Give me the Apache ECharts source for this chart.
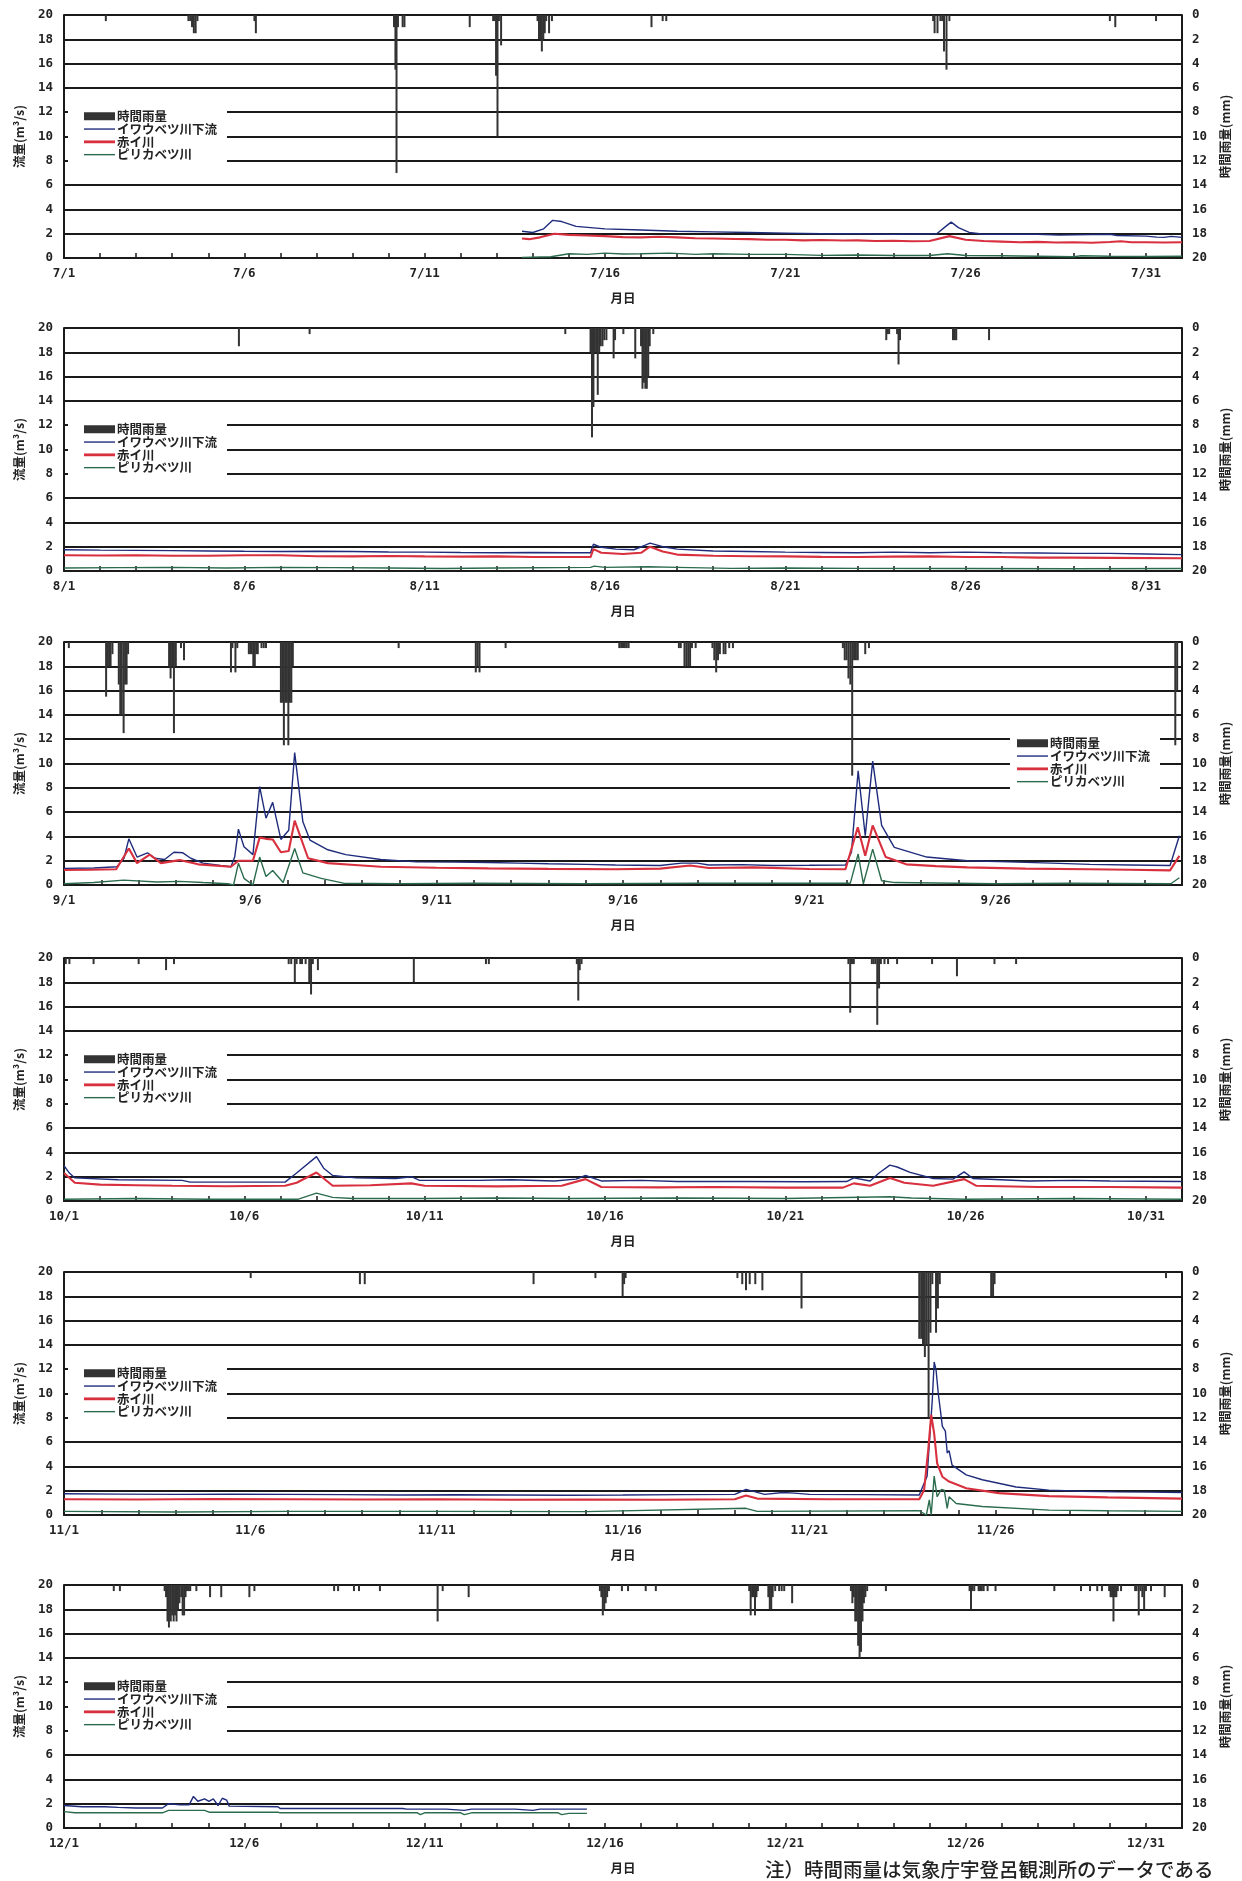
<!DOCTYPE html>
<html><head><meta charset="utf-8">
<script src="https://cdn.jsdelivr.net/npm/echarts@6/dist/echarts.min.js"></script>
<style>html,body{margin:0;padding:0;background:#fff}#c{width:1242px;height:1881px}</style>
</head><body><div id="c"></div>
<script>
// ---- categories / labels ----
const monthNums = [7, 8, 9, 10, 11, 12];
const monthDays = [31, 31, 30, 31, 30, 31];
const seriesNames = ['時間雨量', 'イワウベツ川下流', '赤イ川', 'ピリカベツ川'];
const flowAxisName = '流量(m³/s)';
const rainAxisName = '時間雨量(mm)';
const xAxisName = '月日';
const noteText = '注）時間雨量は気象庁宇登呂観測所のデータである';

// ---- July (x = days since 7/1 00:00) ----
const julRain = [[1.16,0.5],[3.45,0.5],[3.5,0.5],[3.55,1],[3.6,1.5],[3.65,1.5],[3.7,0.5],[5.28,0.5],[5.32,1.5],
 [9.15,1],[9.19,4.5],[9.22,13],[9.26,1],[9.39,1],[9.44,1],[11.25,1],
 [11.9,0.5],[11.94,0.5],[11.98,5],[12.02,10],[12.06,0.5],[12.12,2.5],
 [13.13,0.5],[13.17,2],[13.21,2],[13.25,3],[13.29,2],[13.33,1.5],[13.37,0.5],[13.45,1.5],[13.53,0.5],
 [16.29,1],[16.6,0.5],[16.7,0.5],
 [24.1,0.5],[24.14,1.5],[24.22,1.5],[24.3,0.5],[24.35,0.5],[24.4,3],[24.47,4.5],[24.55,0.5],
 [29.0,0.5],[29.15,1],[30.28,0.5]];
const julBlue = [[12.7,2.2],[13.0,2.1],[13.3,2.4],[13.55,3.1],[13.8,3.0],[14.2,2.6],[15,2.4],[16,2.3],[17,2.2],[18,2.15],[19,2.1],[20,2.05],[21,2.0],[22,2.0],[23,1.95],[24.2,2.0],[24.45,2.6],[24.6,2.95],[24.8,2.5],[25.1,2.1],[25.5,1.95],[27,1.95],[27.6,1.88],[28,1.9],[29,1.95],[29.2,1.85],[30,1.8],[30.3,1.72],[30.5,1.7],[30.7,1.78],[31,1.7]];
const julRed = [[12.7,1.6],[12.9,1.55],[13.2,1.7],[13.6,2.0],[14,1.9],[14.5,1.85],[15,1.8],[15.5,1.72],[16,1.7],[16.5,1.75],[17,1.7],[17.5,1.62],[18,1.6],[18.6,1.56],[19,1.55],[19.5,1.5],[20,1.5],[20.5,1.45],[21,1.48],[21.6,1.44],[22,1.45],[22.5,1.4],[23,1.42],[23.5,1.38],[24,1.4],[24.55,1.8],[25,1.5],[25.5,1.4],[26,1.35],[26.5,1.3],[27,1.33],[27.5,1.28],[28,1.3],[28.5,1.26],[29,1.32],[29.3,1.38],[29.6,1.3],[30,1.3],[30.5,1.27],[31,1.3]];
const julGreen = [[12.7,0.05],[13.5,0.1],[14,0.35],[14.5,0.3],[15,0.4],[15.5,0.33],[16,0.35],[16.8,0.4],[17.5,0.3],[18,0.35],[19,0.3],[20,0.3],[21,0.22],[22,0.25],[23,0.2],[24,0.2],[24.5,0.35],[25,0.2],[26,0.18],[27,0.15],[28,0.1],[28.2,0.18],[29,0.15],[30,0.12],[31,0.15]];

// ---- August ----
const augRain = [[4.85,1.5],[6.81,0.5],[13.9,0.5],
 [14.6,2],[14.64,9],[14.68,6.5],[14.72,2],[14.76,2],[14.8,5.5],[14.84,2],[14.88,1.5],[14.93,1.5],[14.98,1],[15.04,1],
 [15.24,2.5],[15.28,1],[15.51,0.5],
 [15.84,2.5],[16.0,1.5],[16.04,5],[16.08,4.5],[16.12,5],[16.16,5],[16.2,4],[16.24,1.5],[16.34,0.5],
 [22.8,1],[22.84,0.5],[22.88,0.5],[23.1,0.5],[23.14,3],[23.18,1],
 [24.65,1],[24.7,1],[24.74,1],[25.65,1]];
const augBlue = [[0,1.75],[1,1.72],[2,1.7],[3,1.68],[4,1.65],[5,1.62],[6,1.6],[7,1.62],[8,1.6],[9,1.56],[10,1.55],[11,1.52],[12,1.5],[13,1.52],[14,1.5],[14.6,1.5],[14.68,2.2],[14.9,1.95],[15.3,1.8],[15.8,1.75],[16.1,2.1],[16.25,2.3],[16.6,2.0],[17,1.8],[18,1.65],[19,1.6],[20,1.55],[21,1.52],[22,1.5],[23,1.55],[24,1.5],[25,1.55],[26,1.5],[27,1.48],[28,1.45],[29,1.45],[30,1.4],[31,1.35]];
const augRed = [[0,1.3],[1,1.27],[2,1.3],[3,1.25],[4,1.25],[5,1.3],[6,1.3],[7,1.22],[8,1.2],[9,1.23],[10,1.2],[11,1.18],[12,1.2],[13,1.15],[14,1.15],[14.6,1.15],[14.68,1.8],[14.9,1.5],[15.5,1.4],[16.0,1.5],[16.25,2.0],[16.6,1.6],[17,1.35],[18,1.25],[19,1.22],[20,1.2],[21,1.16],[22,1.15],[23,1.18],[24,1.2],[25,1.15],[26,1.15],[27,1.1],[28,1.1],[29,1.08],[31,1.05]];
const augGreen = [[0,0.25],[1.5,0.28],[3,0.3],[4.5,0.25],[6,0.3],[7.5,0.28],[9,0.25],[10.5,0.2],[12,0.25],[14.6,0.3],[14.7,0.4],[15,0.3],[16.2,0.35],[17,0.3],[18.5,0.22],[20,0.25],[22,0.22],[25,0.2],[28,0.18],[31,0.2]];

// ---- September ----
const sepRain = [[0.13,0.5],
 [1.13,4.5],[1.17,2],[1.21,2],[1.25,2],[1.3,1],
 [1.47,3.5],[1.51,6],[1.55,6],[1.6,7.5],[1.64,3.5],[1.68,3.5],[1.72,1],
 [2.82,2],[2.86,3],[2.9,2],[2.95,7.5],[3.0,2],[3.14,0.5],[3.22,1.5],
 [4.48,2.5],[4.52,0.5],[4.6,2.5],[4.65,0.5],
 [4.96,1],[5.0,1],[5.04,1],[5.08,2],[5.12,2],[5.16,1],[5.2,1],[5.3,0.5],[5.36,0.5],[5.42,0.5],
 [5.82,5],[5.86,5],[5.9,8.5],[5.94,5],[5.98,5],[6.02,8.5],[6.06,5],[6.1,5],[6.14,2],
 [8.98,0.5],[11.05,2.5],[11.1,2],[11.15,2.5],[11.85,0.5],
 [14.9,0.5],[14.95,0.5],[15.0,0.5],[15.05,0.5],[15.1,0.5],[15.15,0.5],
 [16.5,0.5],[16.55,0.5],[16.65,2],[16.7,2],[16.75,2],[16.8,2],[16.85,0.5],[16.95,0.5],
 [17.4,0.5],[17.45,1.5],[17.5,2.5],[17.55,1.5],[17.6,1],[17.7,1],[17.75,1],[17.85,0.5],[17.95,0.5],
 [20.9,0.5],[20.95,1.5],[21.0,1.5],[21.05,3],[21.1,3.5],[21.15,11],[21.2,1.5],[21.25,1.5],[21.3,1.5],
 [21.5,1],[21.6,0.5],[29.82,8.5],[29.87,4]];
const sepBlue = [[0,1.37],[0.8,1.4],[1.42,1.5],[1.61,2.2],[1.74,3.8],[1.96,2.3],[2.24,2.65],[2.44,2.2],[2.7,2.1],[2.95,2.7],[3.19,2.65],[3.4,2.2],[3.73,1.8],[4.2,1.6],[4.48,1.5],[4.58,2.3],[4.68,4.6],[4.83,3.15],[5.07,2.5],[5.25,8.1],[5.42,5.5],[5.6,6.8],[5.82,3.75],[6.03,4.5],[6.19,10.9],[6.41,5.2],[6.6,3.7],[7.08,2.9],[7.56,2.5],[8.5,2.1],[9.46,1.9],[10.5,1.88],[11.39,1.85],[12.2,1.8],[13,1.75],[14,1.7],[14.8,1.65],[16,1.6],[16.57,1.8],[17.0,1.8],[17.3,1.65],[18.2,1.68],[19,1.6],[20,1.62],[20.97,1.65],[21.13,2.7],[21.31,9.4],[21.5,4.05],[21.7,10.2],[21.94,4.9],[22.28,3.1],[23.15,2.3],[24.24,2.0],[25.34,1.9],[26.5,1.8],[27.53,1.7],[28.6,1.65],[29.68,1.6],[29.93,4.05]];
const sepRed = [[0,1.23],[0.7,1.25],[1.4,1.3],[1.74,3.0],[1.96,1.8],[2.3,2.5],[2.6,1.8],[3.1,2.05],[3.6,1.7],[4.48,1.5],[4.68,2.0],[5.07,2.0],[5.25,3.9],[5.42,3.8],[5.6,3.75],[5.82,2.7],[6.03,2.8],[6.19,5.3],[6.55,2.2],[7.08,1.8],[7.8,1.65],[8.5,1.5],[10,1.42],[11.39,1.37],[13,1.33],[14.8,1.3],[16,1.35],[16.8,1.6],[17.3,1.4],[18.5,1.45],[20,1.32],[20.97,1.3],[21.3,4.75],[21.5,2.4],[21.7,4.9],[22.05,2.3],[22.6,1.7],[23.4,1.55],[24.24,1.45],[25.8,1.35],[27.53,1.3],[28.6,1.25],[29.68,1.2],[29.93,2.4]];
const sepGreen = [[0,0.1],[0.8,0.2],[1.6,0.4],[2.5,0.25],[3.1,0.3],[3.73,0.2],[4.4,0.1],[4.55,0],[4.68,1.8],[4.83,0.55],[5.07,0],[5.25,2.3],[5.42,0.7],[5.6,1.2],[5.88,0.2],[6.19,3.0],[6.41,1.0],[6.9,0.55],[7.5,0.15],[9,0.1],[11,0.15],[14,0.1],[17,0.15],[21.1,0.15],[21.31,2.55],[21.45,0.1],[21.7,2.95],[21.94,0.35],[22.3,0.2],[25,0.1],[27,0.15],[29.7,0.1],[29.93,0.6]];

// ---- October ----
const octRain = [[0.05,0.5],[0.15,0.5],[0.82,0.5],[2.07,0.5],[2.83,1],[3.05,0.5],
 [6.23,0.5],[6.3,0.5],[6.4,2],[6.45,0.5],[6.55,0.5],[6.6,0.5],[6.7,0.5],[6.8,2],[6.85,3],[6.9,0.5],[7.04,1],
 [9.7,2],[11.7,0.5],[11.78,0.5],
 [14.22,0.5],[14.26,3.5],[14.3,1],[14.35,0.5],
 [21.75,0.5],[21.8,4.5],[21.85,0.5],[21.9,0.5],
 [22.4,0.5],[22.45,0.5],[22.5,0.5],[22.55,5.5],[22.6,2.5],[22.65,0.5],[22.75,0.5],[22.85,0.5],
 [23.1,0.5],[24.07,0.5],[24.76,1.5],[25.8,0.5],[26.4,0.5]];
const octBlue = [[0,2.9],[0.15,2.3],[0.3,1.9],[1.5,1.75],[3.28,1.7],[3.5,1.55],[5,1.55],[6.13,1.55],[6.45,2.3],[7.0,3.65],[7.2,2.7],[7.45,2.1],[8.1,1.9],[9.2,1.85],[9.63,2.0],[9.86,1.7],[11.5,1.7],[12.4,1.75],[13.6,1.65],[14.2,1.8],[14.46,2.1],[14.9,1.65],[16,1.7],[17,1.6],[19,1.6],[20.5,1.58],[21.7,1.6],[21.9,1.9],[22.35,1.65],[22.6,2.3],[22.9,2.95],[23.1,2.8],[23.46,2.35],[24.1,1.85],[24.65,1.8],[24.96,2.4],[25.2,1.85],[26.75,1.65],[28,1.7],[29,1.65],[31,1.6]];
const octRed = [[0,2.3],[0.3,1.5],[1,1.35],[2,1.3],[3,1.25],[4.5,1.22],[6.13,1.25],[6.45,1.5],[7.0,2.35],[7.45,1.25],[8.5,1.3],[9.63,1.45],[10,1.25],[12,1.2],[13.8,1.25],[14.46,1.8],[14.9,1.15],[16.5,1.12],[18,1.15],[20,1.1],[21.6,1.1],[21.9,1.45],[22.35,1.25],[22.9,1.9],[23.3,1.5],[24.1,1.25],[24.96,1.8],[25.3,1.25],[27,1.15],[29,1.15],[31,1.1]];
const octGreen = [[0,0.15],[2,0.2],[4,0.15],[6.5,0.15],[7.0,0.65],[7.45,0.3],[8,0.2],[10,0.2],[12,0.25],[14,0.2],[17,0.25],[20,0.2],[22.9,0.35],[23.5,0.25],[25,0.15],[28,0.2],[31,0.15]];

// ---- November ----
const novRain = [[5.01,0.5],[7.94,1],[8.07,1],[12.6,1],[14.26,0.5],[14.99,2],[15.03,1],[15.07,0.5],
 [18.07,0.5],[18.2,1],[18.3,1.5],[18.4,1],[18.55,1],[18.74,1.5],[19.79,3],
 [22.95,5.5],[23.0,5.5],[23.05,6],[23.1,7],[23.15,6],[23.2,12],[23.25,5],[23.3,1],[23.4,5],[23.45,3],[23.5,1],
 [24.88,2],[24.93,2],[24.97,1],[29.57,0.5]];
const novBlue = [[0,1.75],[1.5,1.72],[3,1.7],[4.5,1.72],[6,1.7],[7.5,1.68],[9,1.65],[10.5,1.67],[12,1.65],[13.5,1.63],[15,1.65],[16.5,1.68],[18,1.7],[18.3,2.1],[18.5,1.95],[18.8,1.7],[19.3,1.85],[19.6,1.8],[20,1.7],[21.5,1.68],[22.95,1.65],[22.99,1.8],[23.16,3.2],[23.3,9.5],[23.35,12.6],[23.4,11.95],[23.46,10.0],[23.57,7.3],[23.65,6.9],[23.7,5.1],[23.75,5.3],[23.83,4.1],[24.21,3.3],[24.64,2.9],[25.55,2.3],[26.43,2.05],[27.3,1.95],[28.23,1.9],[29.1,1.88],[30,1.85]];
const novRed = [[0,1.3],[2,1.28],[4,1.32],[6,1.3],[8,1.27],[10,1.3],[12,1.25],[14,1.28],[16,1.25],[18,1.3],[18.3,1.6],[18.6,1.35],[20.5,1.3],[22.95,1.3],[23.08,2.05],[23.19,5.35],[23.27,8.25],[23.35,6.7],[23.43,4.25],[23.57,3.15],[23.75,2.75],[24.21,2.2],[25.09,1.8],[26.43,1.55],[28,1.45],[30,1.35]];
const novGreen = [[0,0.3],[3,0.25],[6,0.3],[10,0.3],[14,0.28],[18.3,0.55],[18.6,0.3],[22.95,0.35],[23.14,0],[23.22,1.25],[23.27,0],[23.35,3.2],[23.43,1.5],[23.54,2.1],[23.62,2.05],[23.7,0.55],[23.75,1.5],[23.94,0.95],[24.64,0.7],[26.43,0.4],[28,0.35],[30,0.3]];

// ---- December ----
const decRain = [[1.38,0.5],[1.55,0.5],
 [2.79,0.5],[2.83,1],[2.87,3],[2.91,3.5],[2.96,3],[3.0,2.5],[3.04,3],[3.08,2.5],[3.12,3],[3.16,2],[3.2,1.5],[3.25,1],[3.29,2.5],[3.33,2.5],[3.37,1],[3.41,0.5],[3.46,0.5],[3.5,0.5],
 [3.67,0.5],[4.05,1],[4.36,1],[5.14,1],[5.28,0.5],
 [7.49,0.5],[7.6,0.5],[8.04,0.5],[8.18,0.5],[8.76,0.5],
 [10.36,3],[10.5,0.5],[11.22,1],
 [14.86,0.5],[14.9,1],[14.94,2.5],[14.98,2],[15.02,1.5],[15.06,1],[15.11,0.5],
 [15.47,0.5],[15.64,0.5],[16.13,0.5],[16.41,0.5],
 [19.0,0.5],[19.04,2.5],[19.08,1],[19.12,1],[19.16,2.5],[19.2,1],[19.24,0.5],
 [19.53,1],[19.57,2],[19.61,2],[19.65,1],[19.72,0.5],[19.83,0.5],[19.9,0.5],[19.97,0.5],[20.19,1.5],
 [21.82,0.5],[21.86,1.5],[21.9,1],[21.94,3],[21.98,3],[22.02,5],[22.06,6],[22.1,5.5],[22.14,3],[22.18,1.5],[22.22,1],[22.27,0.5],
 [22.79,0.5],
 [25.11,0.5],[25.15,2],[25.19,0.5],[25.24,0.5],[25.36,0.5],[25.4,0.5],[25.45,0.5],[25.5,0.5],[25.61,0.5],[25.83,0.5],
 [27.46,0.5],[28.2,0.5],[28.45,0.5],[28.65,0.5],[28.78,0.5],
 [28.98,0.5],[29.02,1],[29.06,1],[29.1,3],[29.14,1],[29.18,1],[29.22,0.5],[29.31,0.5],
 [29.7,0.5],[29.74,0.5],[29.8,2.5],[29.85,0.5],[29.9,1],[29.95,2],[30.0,0.5],[30.14,0.5],[30.52,1]];
const decBlue = [[0,1.85],[0.5,1.75],[1.13,1.75],[1.5,1.7],[1.99,1.65],[2.73,1.65],[2.9,2.0],[3.22,1.9],[3.47,1.9],[3.59,2.6],[3.71,2.2],[3.9,2.4],[4.02,2.2],[4.14,2.4],[4.27,1.85],[4.39,2.45],[4.51,2.3],[4.58,1.8],[5.93,1.75],[6.0,1.6],[9.39,1.6],[9.5,1.55],[10.6,1.55],[11.1,1.45],[11.3,1.55],[12.5,1.55],[13,1.45],[13.2,1.55],[14.5,1.55]];
const decRed = [];
const decGreen = [[0,1.35],[0.3,1.25],[2.73,1.25],[2.9,1.45],[3.9,1.45],[4.02,1.3],[5.93,1.3],[6.0,1.25],[9.8,1.25],[9.88,1.1],[10,1.25],[11.0,1.25],[11.1,1.1],[11.3,1.25],[13.7,1.25],[13.8,1.1],[14.0,1.2],[14.5,1.2]];

const rainData = [julRain, augRain, sepRain, octRain, novRain, decRain];
const blueData = [julBlue, augBlue, sepBlue, octBlue, novBlue, decBlue];
const redData = [julRed, augRed, sepRed, octRed, novRed, decRed];
const greenData = [julGreen, augGreen, sepGreen, octGreen, novGreen, decGreen];

// ---- layout / style ----
const gridTops = [15, 328, 642, 958, 1272, 1585];
const gridH = 243;
const legendRight = [false, false, true, false, false, false];
const C_BLUE = '#1f2c7c', C_RED = '#d8303e', C_GREEN = '#2c6c4e', C_RAIN = '#333333', C_AX = '#1a1a1a';
const numFont = 'DejaVu Sans Mono';
const jpFont = 'Noto Sans CJK JP';

const option = {animation:false, backgroundColor:'#fff', grid:[], xAxis:[], yAxis:[], series:[], legend:[], graphic:[]};
monthNums.forEach((m, i) => {
  const days = monthDays[i];
  option.grid.push({left:64, right:60, top:gridTops[i], height:gridH});
  option.xAxis.push({gridIndex:i, type:'value', min:0, max:days, interval:1,
    axisLine:{show:true, lineStyle:{color:C_AX, width:2}},
    axisTick:{show:true, inside:true, length:5, lineStyle:{color:C_AX, width:1.5}},
    splitLine:{show:false},
    axisLabel:{margin:9, color:'#222', fontSize:12.5, fontWeight:'bold', fontFamily:numFont,
      formatter: v => (v % 5 === 0 && v + 1 <= days) ? (m + '/' + (v + 1)) : ''},
    name:xAxisName, nameLocation:'middle', nameGap:34,
    nameTextStyle:{color:'#222', fontSize:12.5, fontWeight:'bold', fontFamily:jpFont}});
  option.yAxis.push({gridIndex:i, type:'value', min:0, max:20, interval:2, position:'left',
    name:flowAxisName, nameLocation:'middle', nameRotate:90, nameGap:38,
    nameTextStyle:{color:'#222', fontSize:12.5, fontWeight:'bold', fontFamily:jpFont},
    axisLine:{show:true, lineStyle:{color:C_AX, width:2}}, axisTick:{show:false},
    splitLine:{show:true, lineStyle:{color:C_AX, width:2}},
    axisLabel:{margin:11, color:'#222', fontSize:12.5, fontWeight:'bold', fontFamily:numFont}});
  option.yAxis.push({gridIndex:i, type:'value', min:0, max:20, interval:2, position:'right', inverse:true,
    name:rainAxisName, nameLocation:'middle', nameRotate:90, nameGap:37,
    nameTextStyle:{color:'#222', fontSize:12.5, fontWeight:'bold', fontFamily:jpFont},
    axisLine:{show:true, lineStyle:{color:C_AX, width:2}}, axisTick:{show:false},
    splitLine:{show:false},
    axisLabel:{margin:10, color:'#222', fontSize:12.5, fontWeight:'bold', fontFamily:numFont}});
  option.series.push({type:'bar', name:seriesNames[0], xAxisIndex:i, yAxisIndex:2*i+1, data:rainData[i],
    barWidth:2, itemStyle:{color:C_RAIN, borderWidth:0}, z:2});
  option.series.push({type:'line', name:seriesNames[1], xAxisIndex:i, yAxisIndex:2*i, data:blueData[i],
    symbol:'none', lineStyle:{color:C_BLUE, width:1.4}, itemStyle:{color:C_BLUE, borderWidth:0}, z:3});
  option.series.push({type:'line', name:seriesNames[2], xAxisIndex:i, yAxisIndex:2*i, data:redData[i],
    symbol:'none', lineStyle:{color:C_RED, width:2.1}, itemStyle:{color:C_RED, borderWidth:0}, z:4});
  option.series.push({type:'line', name:seriesNames[3], xAxisIndex:i, yAxisIndex:2*i, data:greenData[i],
    symbol:'none', lineStyle:{color:C_GREEN, width:1.4}, itemStyle:{color:C_GREEN, borderWidth:0}, z:5});
  const right = legendRight[i];
  option.legend.push({orient:'vertical', left: right ? 1010 : 68, top: gridTops[i] + 91,
    padding: right ? [4, 10, 4, 7] : [4, 10, 4, 16], backgroundColor:'#fff', z:6,
    itemWidth:31, itemHeight:8, itemGap:0.3, selectedMode:false,
    itemStyle:{borderWidth:0},
    textStyle:{color:'#222', fontSize:12.5, lineHeight:12, fontWeight:'bold', fontFamily:jpFont, padding:[0,0,0,-3]},
    data:[
      {name:seriesNames[0], icon:'rect'},
      {name:seriesNames[1], icon:'path://M0,0M31,8M0,3.3L31,3.3L31,4.7L0,4.7Z'},
      {name:seriesNames[2], icon:'path://M0,0M31,8M0,2.6L31,2.6L31,5.4L0,5.4Z'},
      {name:seriesNames[3], icon:'path://M0,0M31,8M0,3.3L31,3.3L31,4.7L0,4.7Z'}
    ]});
});
option.graphic.push({type:'text', left:765, top:1860,
  style:{text:noteText, fontSize:19.5, fontFamily:jpFont, fontWeight:500, fill:'#222'}});

const chart = echarts.init(document.getElementById('c'), null, {renderer:'canvas'});
chart.setOption(option);
</script></body></html>
